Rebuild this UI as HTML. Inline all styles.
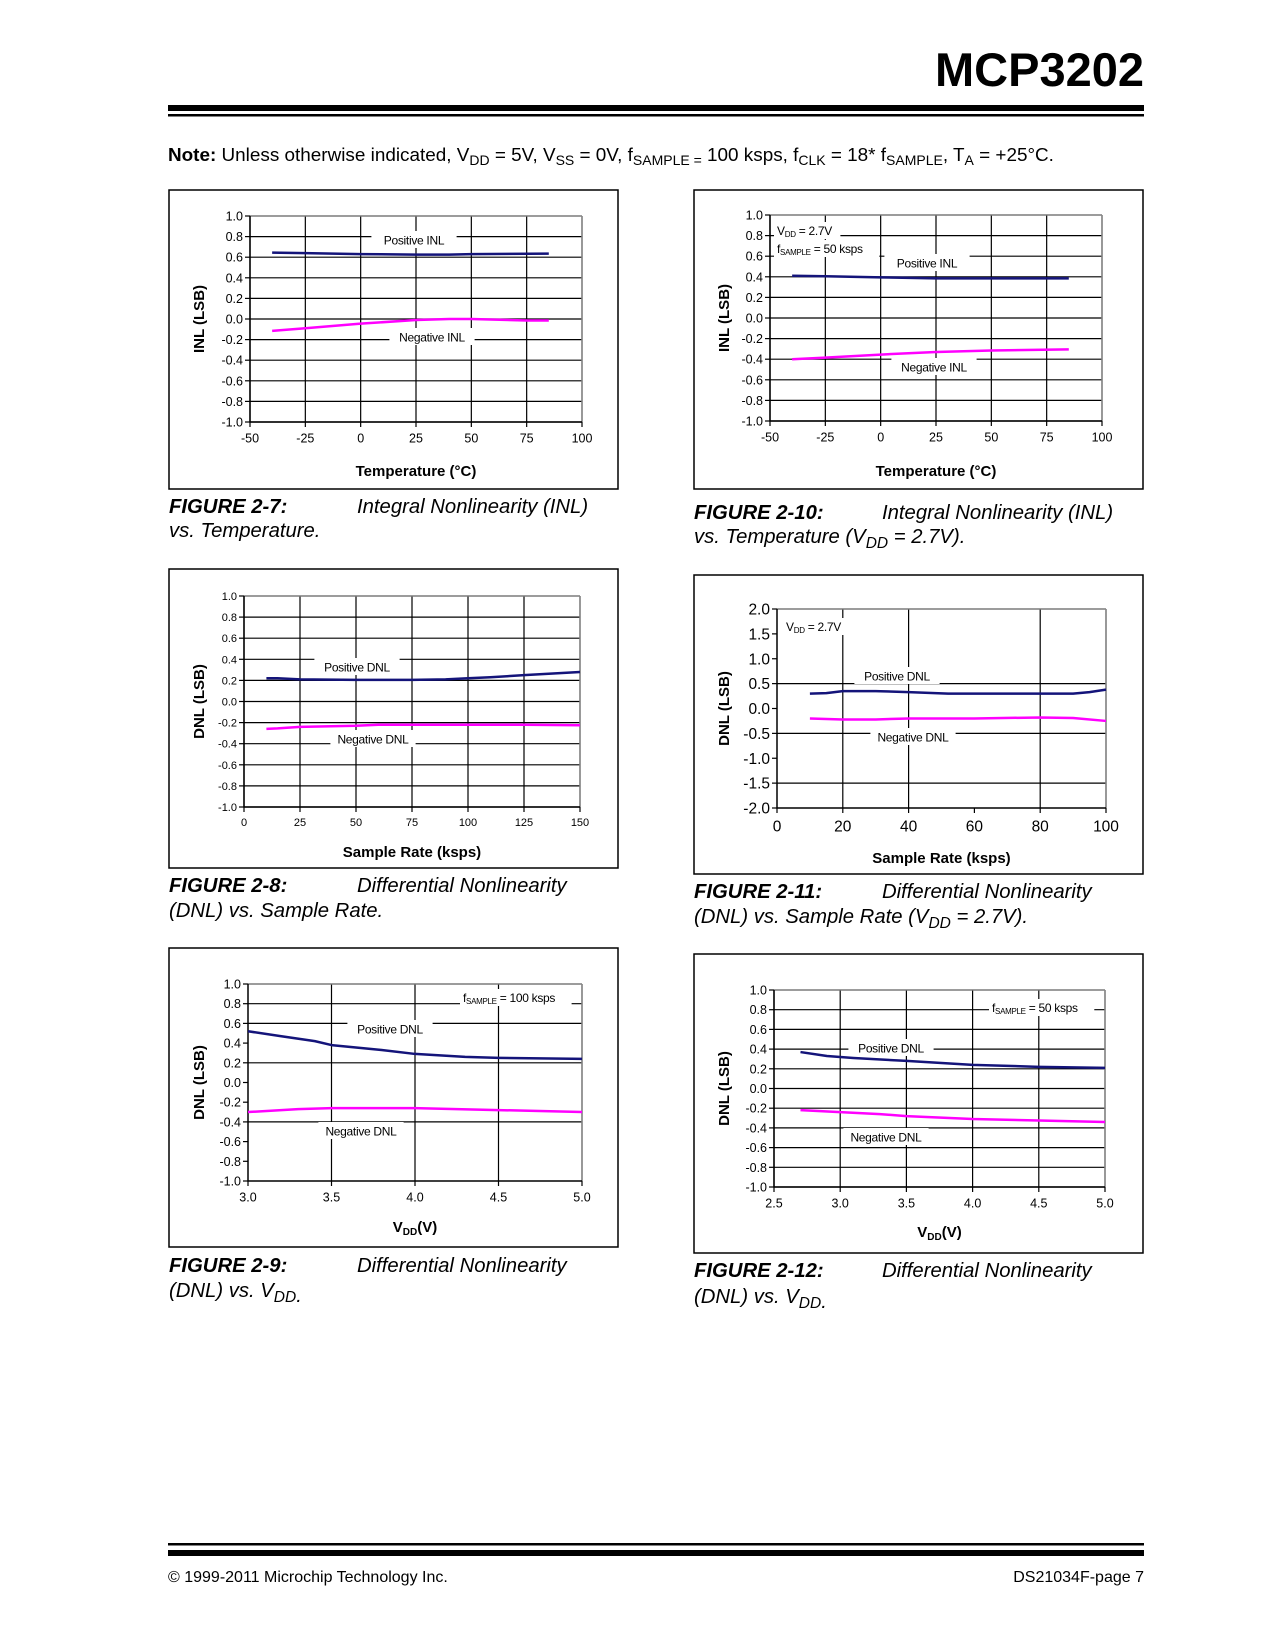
<!DOCTYPE html>
<html><head><meta charset="utf-8"><style>
html,body{margin:0;padding:0;background:#fff;}
svg{display:block;font-family:"Liberation Sans",Arial,sans-serif;}
</style></head><body>
<svg id="page" width="1275" height="1650" viewBox="0 0 1275 1650" xmlns="http://www.w3.org/2000/svg">
<g>
<text x="1144" y="86" text-anchor="end" font-size="47" font-weight="bold">MCP3202</text>
<rect x="168" y="105" width="976" height="6" fill="#000"/>
<rect x="168" y="114" width="976" height="2.5" fill="#000"/>
<text x="168" y="161" font-size="18.9"><tspan font-weight="bold">Note:</tspan> Unless otherwise indicated, V<tspan font-size="14" dy="4">DD</tspan><tspan dy="-4"> = 5V, V</tspan><tspan font-size="14" dy="4">SS</tspan><tspan dy="-4"> = 0V, f</tspan><tspan font-size="14" dy="4">SAMPLE =</tspan><tspan dy="-4"> 100 ksps, f</tspan><tspan font-size="14" dy="4">CLK</tspan><tspan dy="-4"> = 18* f</tspan><tspan font-size="14" dy="4">SAMPLE</tspan><tspan dy="-4">, T</tspan><tspan font-size="14" dy="4">A</tspan><tspan dy="-4"> = +25°C.</tspan></text>
</g>
<g id="charts"></g>
<g>
<rect x="168" y="1543" width="976" height="2.5" fill="#000"/>
<rect x="168" y="1550" width="976" height="6" fill="#000"/>
<text x="168" y="1582" font-size="16">© 1999-2011 Microchip Technology Inc.</text>
<text x="1144" y="1582" font-size="16" text-anchor="end">DS21034F-page 7</text>
</g>
</svg>
<script>
// Figure 2-7
const f7X=[-40,-25,0,25,40,50,85];
const f7Pos=[0.645,0.64,0.63,0.625,0.625,0.63,0.635];
const f7NegX=[-40,-25,0,25,40,50,75,85];
const f7Neg=[-0.115,-0.09,-0.045,-0.01,0.0,0.0,-0.015,-0.015];
const f7XTicks=[-50,-25,0,25,50,75,100];
const f7YTicks=[-1,-0.8,-0.6,-0.4,-0.2,0,0.2,0.4,0.6,0.8,1];
// Figure 2-10
const f10X=[-40,-25,0,25,85];
const f10Pos=[0.41,0.405,0.395,0.385,0.385];
const f10NegX=[-40,-25,0,25,50,85];
const f10Neg=[-0.4,-0.385,-0.355,-0.33,-0.315,-0.305];
const f10XTicks=[-50,-25,0,25,50,75,100];
const f10YTicks=[-1,-0.8,-0.6,-0.4,-0.2,0,0.2,0.4,0.6,0.8,1];
// Figure 2-8
const f8X=[10,15,25,50,75,90,100,110,125,150];
const f8Pos=[0.22,0.22,0.21,0.205,0.205,0.21,0.22,0.23,0.25,0.28];
const f8NegX=[10,15,25,50,60,100,125,150];
const f8Neg=[-0.26,-0.255,-0.24,-0.23,-0.22,-0.22,-0.22,-0.225];
const f8XTicks=[0,25,50,75,100,125,150];
const f8YTicks=[-1,-0.8,-0.6,-0.4,-0.2,0,0.2,0.4,0.6,0.8,1];
// Figure 2-11
const f11X=[10,15,20,30,40,52,80,90,95,100];
const f11Pos=[0.3,0.31,0.35,0.35,0.33,0.3,0.3,0.3,0.33,0.38];
const f11NegX=[10,20,30,40,60,80,90,100];
const f11Neg=[-0.2,-0.22,-0.22,-0.2,-0.2,-0.18,-0.19,-0.25];
const f11XTicks=[0,20,40,60,80,100];
const f11YTicks=[-2,-1.5,-1,-0.5,0,0.5,1,1.5,2];
// Figure 2-9
const f9X=[3.0,3.2,3.4,3.5,3.8,4.0,4.3,4.5,5.0];
const f9Pos=[0.52,0.47,0.42,0.38,0.33,0.29,0.26,0.25,0.24];
const f9NegX=[3.0,3.3,3.5,4.0,4.5,5.0];
const f9Neg=[-0.3,-0.27,-0.26,-0.26,-0.28,-0.3];
const f9XTicks=[3.0,3.5,4.0,4.5,5.0];
const f9YTicks=[-1,-0.8,-0.6,-0.4,-0.2,0,0.2,0.4,0.6,0.8,1];
// Figure 2-12
const f12X=[2.7,2.9,3.1,3.5,4.0,4.5,5.0];
const f12Pos=[0.37,0.33,0.31,0.28,0.24,0.22,0.21];
const f12NegX=[2.7,3.0,3.3,3.5,4.0,4.5,5.0];
const f12Neg=[-0.22,-0.24,-0.26,-0.28,-0.31,-0.325,-0.34];
const f12XTicks=[2.5,3.0,3.5,4.0,4.5,5.0];
const f12YTicks=[-1,-0.8,-0.6,-0.4,-0.2,0,0.2,0.4,0.6,0.8,1];

const NS='http://www.w3.org/2000/svg';
const root=document.getElementById('charts');
function mk(tag,attrs,parent){const e=document.createElementNS(NS,tag);for(const k in attrs)e.setAttribute(k,attrs[k]);parent.appendChild(e);return e;}

const charts=[
 {id:'fig-2-7',box:[169,190,618,489],plot:[250,216,582,422],xd:[-50,100],yd:[-1,1],xt:f7XTicks,yt:f7YTicks,xg:f7XTicks,yg:f7YTicks,px:f7X,pos:f7Pos,nx:f7NegX,neg:f7Neg,fmtY:1,fmtX:0,tfs:12.5,ytitle:'INL (LSB)',xtitle:'Temperature (°C)',xty:476,
  labels:[['Positive INL',414,240],['Negative INL',432,337]],notes:[],cap:['FIGURE 2-7:','Integral Nonlinearity (INL)','vs. Temperature.',513,537,null]},
 {id:'fig-2-10',box:[694,190,1143,489],plot:[770,215,1102,421],xd:[-50,100],yd:[-1,1],xt:f10XTicks,yt:f10YTicks,xg:f10XTicks,yg:f10YTicks,px:f10X,pos:f10Pos,nx:f10NegX,neg:f10Neg,fmtY:1,fmtX:0,tfs:12.5,ytitle:'INL (LSB)',xtitle:'Temperature (°C)',xty:476,
  labels:[['Positive INL',927,263],['Negative INL',934,367]],notes:[['V','DD',' = 2.7V',777,235],['f','SAMPLE',' = 50 ksps',777,253]],cap:['FIGURE 2-10:','Integral Nonlinearity (INL)','vs. Temperature (V',519,543,'DD']},
 {id:'fig-2-8',box:[169,569,618,868],plot:[244,596,580,807],xd:[0,150],yd:[-1,1],xt:f8XTicks,yt:f8YTicks,xg:f8XTicks,yg:f8YTicks,px:f8X,pos:f8Pos,nx:f8NegX,neg:f8Neg,fmtY:1,fmtX:0,tfs:11,ytitle:'DNL (LSB)',xtitle:'Sample Rate (ksps)',xty:857,
  labels:[['Positive DNL',357,667],['Negative DNL',373,739]],notes:[],cap:['FIGURE 2-8:','Differential Nonlinearity','(DNL) vs. Sample Rate.',892,917,null]},
 {id:'fig-2-11',box:[694,575,1143,874],plot:[777,609,1106,808],xd:[0,100],yd:[-2,2],xt:f11XTicks,yt:f11YTicks,xg:[20,40,80,100],yg:[2,0.5,-0.5,-1.5],px:f11X,pos:f11Pos,nx:f11NegX,neg:f11Neg,fmtY:1,fmtX:0,tfs:15.5,ytitle:'DNL (LSB)',xtitle:'Sample Rate (ksps)',xty:863,
  labels:[['Positive DNL',897,676],['Negative DNL',913,737]],notes:[['V','DD','  = 2.7V',786,631]],cap:['FIGURE 2-11:','Differential Nonlinearity','(DNL) vs. Sample Rate (V',898,923,'DD']},
 {id:'fig-2-9',box:[169,948,618,1247],plot:[248,984,582,1181],xd:[3,5],yd:[-1,1],xt:f9XTicks,yt:f9YTicks,xg:[3.5,4.0,4.5,5.0],yg:[1,0.8,0.6,0.2,-0.4],px:f9X,pos:f9Pos,nx:f9NegX,neg:f9Neg,fmtY:1,fmtX:1,tfs:12.5,ytitle:'DNL (LSB)',xtitle:'VDD',xty:1232,
  labels:[['Positive DNL',390,1029],['Negative DNL',361,1131]],notes:[['f','SAMPLE',' = 100 ksps',463,1002]],cap:['FIGURE 2-9:','Differential Nonlinearity','(DNL) vs. V',1272,1297,'DDdot']},
 {id:'fig-2-12',box:[694,954,1143,1253],plot:[774,990,1105,1187],xd:[2.5,5],yd:[-1,1],xt:f12XTicks,yt:f12YTicks,xg:f12XTicks,yg:f12YTicks,px:f12X,pos:f12Pos,nx:f12NegX,neg:f12Neg,fmtY:1,fmtX:1,tfs:12.5,ytitle:'DNL (LSB)',xtitle:'VDD',xty:1237,
  labels:[['Positive DNL',891,1048],['Negative DNL',886,1137]],notes:[['f','SAMPLE',' = 50 ksps',992,1012]],cap:['FIGURE 2-12:','Differential Nonlinearity','(DNL) vs. V',1277,1303,'DDdot']}
];

charts.forEach(c=>{
 const g=mk('g',{},root);
 
 
 const [bx1,by1,bx2,by2]=c.box,[x1,y1,x2,y2]=c.plot;
 const sx=v=>x1+(v-c.xd[0])/(c.xd[1]-c.xd[0])*(x2-x1);
 const sy=v=>y2-(v-c.yd[0])/(c.yd[1]-c.yd[0])*(y2-y1);
 const fr=mk('rect',{x:bx1,y:by1,width:bx2-bx1,height:by2-by1,fill:'none',stroke:'#000','stroke-width':1.5},g);
 
 
 c.yg.forEach(v=>{const l=mk('line',{x1:x1,x2:x2,y1:sy(v),y2:sy(v),stroke:'#000','stroke-width':1.2},g);
  
  });
 c.xg.forEach(v=>{const l=mk('line',{x1:sx(v),x2:sx(v),y1:y1,y2:y2,stroke:'#000','stroke-width':1.2},g);
  
  });
 mk('line',{x1:x2,x2:x2,y1:y1,y2:y2,stroke:'#888','stroke-width':1.5},g);
 mk('line',{x1:x1,x2:x2,y1:y1,y2:y1,stroke:'#888','stroke-width':1.2},g);
 const ax=mk('path',{d:`M${x1},${y1}V${y2}H${x2}`,fill:'none',stroke:'#000','stroke-width':1.5},g);
 
 
 c.yt.forEach(v=>{mk('line',{x1:x1-5,x2:x1,y1:sy(v),y2:sy(v),stroke:'#000','stroke-width':1.2},g);
  const t=mk('text',{x:x1-7,y:sy(v)+c.tfs*0.36,'font-size':c.tfs,'text-anchor':'end'},g);
  
  
  t.textContent=v.toFixed(c.fmtY);});
 c.xt.forEach(v=>{mk('line',{x1:sx(v),x2:sx(v),y1:y2,y2:y2+5,stroke:'#000','stroke-width':1.2},g);
  const t=mk('text',{x:sx(v),y:y2+c.tfs+8,'font-size':c.tfs,'text-anchor':'middle'},g);
  
  
  t.textContent=v.toFixed(c.fmtX);});
 c.labels.forEach(([s,cx,cy])=>{
  const w=s.length*6.6+6;
  mk('rect',{x:cx-w/2,y:cy-9,width:w,height:17,fill:'#fff'},g);
  const t=mk('text',{x:cx,y:cy+4.5,'font-size':12,'text-anchor':'middle','letter-spacing':'-0.3'},g);
  
  
  t.textContent=s;});
 c.notes.forEach(([a,sub,b,nx,ny])=>{
  const len=(a.length+b.length)*6.3+sub.length*5+6;
  mk('rect',{x:nx-3,y:ny-13,width:len,height:17,fill:'#fff'},g);
  const t=mk('text',{x:nx,y:ny,'font-size':12,'letter-spacing':'-0.3'},g);
  
  
  t.innerHTML=`${a}<tspan font-size="8" dy="2">${sub}</tspan><tspan dy="-2">${b}</tspan>`;});
 const line=(xs,ys,col,name)=>{
  const p=mk('polyline',{points:xs.map((x,i)=>sx(x)+','+sy(ys[i])).join(' '),fill:'none',stroke:col,'stroke-width':2.5,'stroke-linejoin':'round'},g);
  
  };
 line(c.px,c.pos,'#14147a','positive-series-line');
 line(c.nx,c.neg,'#ff00ff','negative-series-line');
 const ycx=bx1+35,ycy=(y1+y2)/2;
 const yt=mk('text',{x:ycx,y:ycy,'font-size':15,'font-weight':'bold','text-anchor':'middle',transform:`rotate(-90 ${ycx} ${ycy})`},g);
 
 
 yt.textContent=c.ytitle;
 const xt=mk('text',{x:(x1+x2)/2,y:c.xty,'font-size':15,'font-weight':'bold','text-anchor':'middle'},g);
 
 
 if(c.xtitle==='VDD') xt.innerHTML='V<tspan font-size="10" dy="3">DD</tspan><tspan dy="-3">(V)</tspan>';
 else xt.textContent=c.xtitle;
 const [fig,t1,t2,b1,b2,sub]=c.cap;
 const cg=mk('g',{'font-size':20.3,'font-style':'italic'},root);
 
 
 const a=mk('text',{x:bx1,y:b1,'font-weight':'bold'},cg);a.textContent=fig;
 const b=mk('text',{x:bx1+188,y:b1},cg);b.textContent=t1;
 const d=mk('text',{x:bx1,y:b2},cg);
 if(sub==='DD') d.innerHTML=t2+'<tspan font-size="15.5" dy="5">DD</tspan><tspan dy="-5"> = 2.7V).</tspan>';
 else if(sub==='DDdot') d.innerHTML=t2+'<tspan font-size="15.5" dy="5">DD</tspan><tspan>.</tspan>';
 else d.textContent=t2;
});
</script>
</body></html>
